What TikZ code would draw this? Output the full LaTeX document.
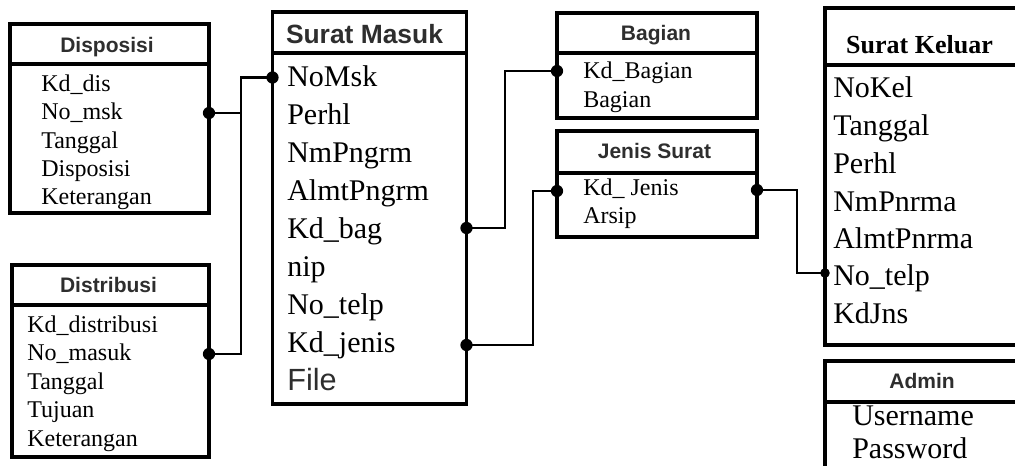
\documentclass[tikz,border=0pt]{standalone}
\usepackage{fontspec}
\setmainfont{Liberation Serif}
\setsansfont{Liberation Sans}
\begin{document}
\begin{tikzpicture}[x=0.75pt,y=-0.75pt,
  box/.style={draw, line width=2.8pt, inner sep=0pt, outer sep=0pt, anchor=north west},
  hline/.style={line width=2.3pt},
  conn/.style={line width=1.7pt},
  ttl/.style={inner sep=0pt, anchor=base, text=black!82, font=\sffamily\bfseries\fontsize{15.75}{18}\selectfont},
  srow/.style={inner sep=0pt, anchor=base west, font=\fontsize{18}{20}\selectfont},
  brow/.style={inner sep=0pt, anchor=base west, font=\fontsize{22.5}{25}\selectfont}]
\useasboundingbox (0,0) rectangle (1015,465);

% ---- Disposisi
\node[box, minimum width=149.25pt, minimum height=141.75pt] (dis) at (10,24) {};
\draw[hline] (10,64) -- (209,64);
\node[ttl] (disT) at (107,52) {Disposisi};
\node[srow] (dis1) at (41,91) {Kd\_dis};
\node[srow] (dis2) at (41,119.5) {No\_msk};
\node[srow] (dis3) at (41,148) {Tanggal};
\node[srow] (dis4) at (41,176) {Disposisi};
\node[srow] (dis5) at (41,204) {Keterangan};

% ---- Distribusi
\node[box, minimum width=147.75pt, minimum height=144pt] (dst) at (12,265) {};
\draw[hline] (12,305) -- (209,305);
\node[ttl] (dstT) at (108.5,292) {Distribusi};
\node[srow] (dst1) at (27,332) {Kd\_distribusi};
\node[srow] (dst2) at (27,360.5) {No\_masuk};
\node[srow] (dst3) at (27,389) {Tanggal};
\node[srow] (dst4) at (27,417.5) {Tujuan};
\node[srow] (dst5) at (27,446) {Keterangan};

% ---- Surat Masuk
\node[box, minimum width=145.5pt, minimum height=294pt] (sm) at (272.5,12) {};
\draw[hline] (272.5,53) -- (466.5,53);
\node[ttl, font=\sffamily\bfseries\fontsize{19.8}{22}\selectfont] (smT) at (364.5,43) {Surat Masuk};
\node[brow] (sm1) at (287,86) {NoMsk};
\node[brow] (sm2) at (287,124) {Perhl};
\node[brow] (sm3) at (287,162) {NmPngrm};
\node[brow] (sm4) at (287,200) {AlmtPngrm};
\node[brow] (sm5) at (287,238) {Kd\_bag};
\node[brow] (sm6) at (287,276) {nip};
\node[brow] (sm7) at (287,314) {No\_telp};
\node[brow] (sm8) at (287,352) {Kd\_jenis};
\node[brow, text=black!82, font=\sffamily\fontsize{23}{25}\selectfont] (sm9) at (287,390) {File};

% ---- Bagian
\node[box, minimum width=150pt, minimum height=78.75pt] (bg) at (557,13) {};
\draw[hline] (557,53) -- (757,53);
\node[ttl] (bgT) at (656,40) {Bagian};
\node[srow] (bg1) at (583,78) {Kd\_Bagian};
\node[srow] (bg2) at (583,107) {Bagian};

% ---- Jenis Surat
\node[box, minimum width=150pt, minimum height=79.5pt] (js) at (557,131) {};
\draw[hline] (557,173) -- (757,173);
\node[ttl] (jsT) at (654.5,158) {Jenis Surat};
\node[srow] (js1) at (583,195) {Kd\_ Jenis};
\node[srow] (js2) at (583,223) {Arsip};

% ---- Surat Keluar
\node[box, minimum width=153.75pt, minimum height=252.75pt] (sk) at (825,8) {};
\draw[hline] (825,65) -- (1030,65);
\node[ttl, text=black, font=\bfseries\fontsize{19.5}{22}\selectfont] (skT) at (919.5,53) {Surat Keluar};
\node[brow] (sk1) at (833,97) {NoKel};
\node[brow] (sk2) at (833,135) {Tanggal};
\node[brow] (sk3) at (833,173) {Perhl};
\node[brow] (sk4) at (833,211) {NmPnrma};
\node[brow] (sk5) at (833,248) {AlmtPnrma};
\node[brow] (sk6) at (833,285) {No\_telp};
\node[brow] (sk7) at (833,323) {KdJns};

% ---- Admin
\node[box, minimum width=153.75pt, minimum height=89.25pt] (ad) at (825,361) {};
\draw[hline] (825,402) -- (1030,402);
\node[ttl] (adT) at (922,388) {Admin};
\node[brow] (ad1) at (852,425) {Username};
\node[brow] (ad2) at (852,458) {Password};

% ---- connector end points
\coordinate (pDis) at (209,113);
\coordinate (pDst) at (209,354);
\coordinate (pSmNo) at (272.5,77.5);
\coordinate (jA) at (241,77.5);
\coordinate (pSmBag) at (466.5,228);
\coordinate (pSmJen) at (466.5,345);
\coordinate (pBg) at (557,71);
\coordinate (jB) at (505,71);
\coordinate (pJsL) at (557,191);
\coordinate (jC) at (533,191);
\coordinate (pJsR) at (757,190);
\coordinate (jD) at (797,190);
\coordinate (pSk) at (825,273);

\draw[conn] (pDis) -| (jA) -- (pSmNo);
\draw[conn] (pDst) -| (jA);
\draw[conn] (pSmBag) -| (jB) -- (pBg);
\draw[conn] (pSmJen) -| (jC) -- (pJsL);
\draw[conn] (pJsR) -- (jD) |- (pSk);

\foreach \p in {pDis,pDst,pSmNo,pSmBag,pSmJen,pBg,pJsL,pJsR}
  \fill (\p) circle[radius=4.6pt];
\fill (pSk) circle[radius=3.6pt];
\end{tikzpicture}
\end{document}
